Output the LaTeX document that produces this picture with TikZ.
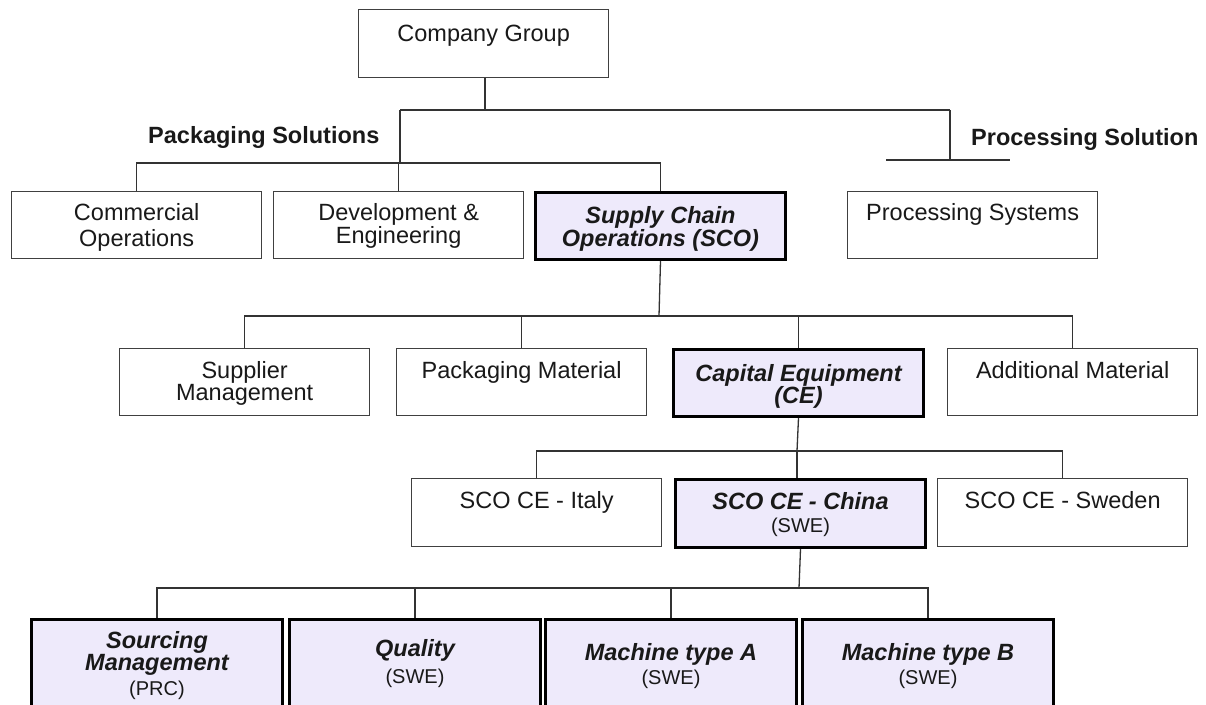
\documentclass[tikz,border=0pt]{standalone}
\usepackage{fontspec}
\setmainfont{Liberation Sans}
\definecolor{lav}{RGB}{238,234,251}
\begin{document}
\begin{tikzpicture}[x=1pt,y=-1pt,
  unit/.style={draw=black!75, line width=1.3pt, fill=white, minimum width=250pt,
    minimum height=67pt, anchor=north west, inner sep=0pt},
  keyunit/.style={unit, draw=black, line width=3pt, fill=lav},
  txt/.style={anchor=north, inner sep=0pt, align=center, text=black!90,
    font=\fontsize{23.5}{23}\selectfont},
  keytxt/.style={txt, font=\fontsize{23.5}{23}\selectfont\bfseries\itshape},
  sub/.style={anchor=base, inner sep=0pt, text=black!90, font=\fontsize{20}{24}\selectfont},
  head/.style={anchor=base west, inner sep=0pt, text=black!90,
    font=\fontsize{23.5}{28}\selectfont\bfseries},
  conn/.style={draw=black!80, line width=1.3pt}
]
\path[use as bounding box] (0,0) rectangle (1206,704);
\clip (0,0) rectangle (1206,704);

% ---- boxes ----
\node[unit, minimum height=68pt] (cg) at (358,9) {};
\node[unit] (co)  at (11,191) {};
\node[unit] (dev) at (273,191) {};
\node[keyunit] (sco) at (534,191) {};
\node[unit] (ps)  at (847,191) {};

\node[unit] (sup) at (119,348) {};
\node[unit] (pm)  at (396,348) {};
\node[keyunit] (ce) at (672,348) {};
\node[unit] (am)  at (947,348) {};

\node[unit, minimum height=68pt] (it) at (411,478) {};
\node[keyunit, minimum height=68pt] (cn) at (674,478) {};
\node[unit, minimum height=68pt] (sw) at (937,478) {};

\node[keyunit, minimum height=100pt, minimum width=251pt] (sm) at (30,618) {};
\node[keyunit, minimum height=100pt, minimum width=251pt] (ql) at (288,618) {};
\node[keyunit, minimum height=100pt, minimum width=251pt] (ma) at (544,618) {};
\node[keyunit, minimum height=100pt, minimum width=251pt] (mb) at (801,618) {};

% ---- box texts ----
\node[txt] (cg-t)  at ([yshift=-15.5pt]cg.north) {Company Group};
\node[txt] (co-t)  at ([yshift=-12.5pt]co.north) {Commercial\\[3pt]Operations};
\node[txt] (dev-t) at ([yshift=-12.5pt]dev.north) {Development \&\\Engineering};
\node[keytxt] (sco-t) at ([yshift=-15.5pt]sco.north) {Supply Chain\\Operations (SCO)};
\node[txt] (ps-t)  at ([yshift=-12.5pt]ps.north) {Processing Systems};

\node[txt] (sup-t) at ([yshift=-13.5pt]sup.north) {Supplier\\[-1pt]Management};
\node[txt] (pm-t)  at ([yshift=-13.5pt]pm.north) {Packaging Material};
\node[keytxt] (ce-t) at ([yshift=-16.5pt]ce.north) {Capital Equipment\\[-1pt](CE)};
\node[txt] (am-t)  at ([yshift=-13.5pt]am.north) {Additional Material};

\node[txt] (it-t)  at ([yshift=-13.5pt]it.north) {SCO CE - Italy};
\node[keytxt] (cn-t) at ([yshift=-14.5pt]cn.north) {SCO CE - China};
\node[sub] (cn-s)  at ([yshift=-54pt]cn.north) {(SWE)};
\node[txt] (sw-t)  at ([yshift=-13.5pt]sw.north) {SCO CE - Sweden};

\node[keytxt] (sm-t) at ([yshift=-13.5pt]sm.north) {Sourcing\\[-1.5pt]Management};
\node[sub] (sm-s)  at ([yshift=-77pt]sm.north) {(PRC)};
\node[keytxt] (ql-t) at ([yshift=-21.5pt]ql.north) {Quality};
\node[sub] (ql-s)  at ([yshift=-65pt]ql.north) {(SWE)};
\node[keytxt] (ma-t) at ([yshift=-25.5pt]ma.north) {Machine type A};
\node[sub] (ma-s)  at ([yshift=-66pt]ma.north) {(SWE)};
\node[keytxt] (mb-t) at ([yshift=-25.5pt]mb.north) {Machine type B};
\node[sub] (mb-s)  at ([yshift=-66pt]mb.north) {(SWE)};

% ---- division headings ----
\node[head] (pkg) at (148,143.5) {Packaging Solutions};
\node[head] (prc) at (971,145.5) {Processing Solution};

% ---- connectors ----
\coordinate (top)   at (485,110);
\coordinate (pkgj)  at (400,110);
\coordinate (prcj)  at (950,110);
\coordinate (pkgb)  at (400,163);
\coordinate (prcb)  at (950,160);
\coordinate (prcl)  at (886,160);
\coordinate (prcr)  at (1010,160);
\draw[conn] (cg.south -| top) -- (top);
\draw[conn] (pkgj) -- (prcj);
\draw[conn] (pkgj) -- (pkgb);
\draw[conn] (co.north) |- (pkgb);
\draw[conn] (dev.north) -- (dev.north |- pkgb);
\draw[conn] (sco.north) |- (pkgb);
\draw[conn] (prcj) -- (prcb);
\draw[conn] (prcl) -- (prcr);

\coordinate (scob) at (659,316);
\draw[conn] (sco.south) -- (scob);
\draw[conn] (sup.north) |- (scob);
\draw[conn] (pm.north) |- (scob);
\draw[conn] (ce.north) |- (scob);
\draw[conn] (am.north) |- (scob);

\coordinate (ceb) at (797,451);
\draw[conn] (ce.south) -- (ceb);
\draw[conn] (it.north) |- (ceb);
\draw[conn] (cn.north -| ceb) -- (ceb);
\draw[conn] (sw.north) |- (ceb);

\coordinate (cnb) at (799,588);
\draw[conn] (cn.south) -- (cnb);
\draw[conn] (sm.north) |- (cnb);
\draw[conn] (ql.north) |- (cnb);
\draw[conn] (ma.north) |- (cnb);
\draw[conn] (mb.north) |- (cnb);
\end{tikzpicture}
\end{document}
